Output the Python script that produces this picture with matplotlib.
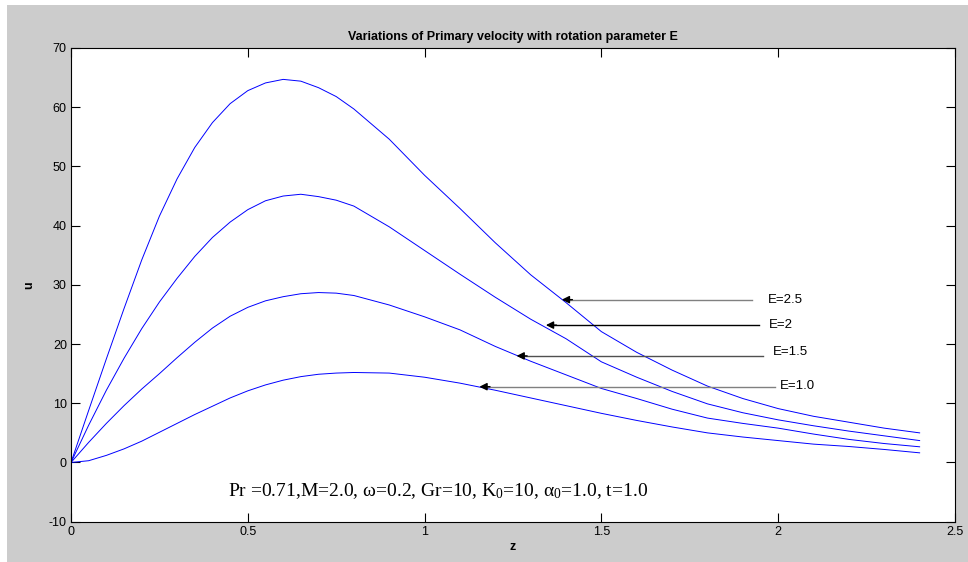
import matplotlib
matplotlib.use("Agg")
import matplotlib.pyplot as plt
from matplotlib.patches import Rectangle

plt.rcParams["font.family"] = ["Liberation Sans", "DejaVu Sans"]
plt.rcParams["mathtext.fontset"] = "custom"
plt.rcParams["mathtext.rm"] = "Liberation Serif"
plt.rcParams["mathtext.it"] = "Liberation Serif:italic"
plt.rcParams["mathtext.default"] = "regular"
plt.rcParams["axes.unicode_minus"] = False

# values (finer steps where the curves bend most)
z = [0.0, 0.05, 0.1, 0.15, 0.2, 0.25, 0.3, 0.35, 0.4, 0.45, 0.5, 0.55, 0.6, 0.65,
     0.7, 0.75, 0.8, 0.9, 1.0, 1.1, 1.2, 1.3, 1.4, 1.5, 1.6, 1.7, 1.8, 1.9, 2.0,
     2.1, 2.2, 2.3, 2.4]
u_E25 = [0.0, 8.8, 17.5, 26.0, 34.2, 41.6, 47.9, 53.2, 57.4, 60.6, 62.8, 64.1, 64.7, 64.4,
         63.3, 61.8, 59.7, 54.6, 48.5, 42.9, 37.1, 31.7, 27.0, 22.1, 18.6, 15.6, 12.9, 10.8, 9.1,
         7.8, 6.8, 5.8, 5.0]
u_E2 = [0.0, 6.3, 12.2, 17.6, 22.6, 27.1, 31.1, 34.8, 38.0, 40.6, 42.7, 44.2, 45.0, 45.3,
        44.9, 44.3, 43.3, 39.8, 35.8, 31.8, 27.9, 24.2, 20.9, 17.0, 14.4, 12.0, 9.9, 8.4, 7.2,
        6.2, 5.3, 4.5, 3.7]
u_E15 = [0.0, 3.4, 6.6, 9.6, 12.4, 15.0, 17.7, 20.3, 22.7, 24.7, 26.2, 27.3, 28.0, 28.5,
         28.7, 28.6, 28.2, 26.6, 24.6, 22.4, 19.6, 17.1, 14.8, 12.5, 10.8, 9.0, 7.5, 6.6, 5.8,
         4.8, 3.9, 3.2, 2.65]
u_E10 = [0.0, 0.3, 1.2, 2.3, 3.6, 5.1, 6.6, 8.1, 9.5, 10.9, 12.1, 13.1, 13.9, 14.5,
         14.9, 15.1, 15.2, 15.1, 14.4, 13.4, 12.2, 10.9, 9.6, 8.3, 7.1, 6.0, 5.0, 4.3, 3.7,
         3.1, 2.7, 2.2, 1.63]

labels = ["E=2.5", "E=2", "E=1.5", "E=1.0"]
arrow_tips = [(1.388, 27.5), (1.343, 23.2), (1.260, 18.0), (1.155, 12.8)]
arrow_tails_z = [1.925, 1.946, 1.957, 1.99]
label_pos = [(1.971, 27.5), (1.974, 23.2), (1.985, 18.7), (2.005, 12.9)]
arrow_colors = ["#808080", "black", "#505050", "#808080"]

fig = plt.figure(figsize=(9.68, 5.62), dpi=100, facecolor="white")
# grey matlab figure background, with a thin white strip top and left
fig.patches.append(Rectangle((7 / 968, 0), 1, (562 - 5) / 562, transform=fig.transFigure,
                             facecolor="#cccccc", edgecolor="none", zorder=-10))

ax = fig.add_axes([71 / 968, (562 - 521.7) / 562, 884 / 968, 473.7 / 562])
ax.set_facecolor("white")

for u in [u_E25, u_E2, u_E15, u_E10]:
    ax.plot(z, u, color="blue", lw=0.7)

for lab, tip, tz, pos, col in zip(labels, arrow_tips, arrow_tails_z, label_pos, arrow_colors):
    ax.plot([tip[0] + 0.02, tz], [tip[1], tip[1]], color=col, lw=1.0)
    ax.annotate("", xy=tip, xytext=(tip[0] + 0.03, tip[1]),
                arrowprops=dict(arrowstyle="-|>", color="black", lw=1.0, mutation_scale=11,
                                shrinkA=0, shrinkB=0))
    ax.text(pos[0], pos[1], lab, fontsize=9.5, ha="left", va="center")

ax.text(0.443, -5.6, r"Pr =0.71,M=2.0, ω=0.2, Gr=10, K$_0$=10, α$_0$=1.0, t=1.0",
        fontsize=14, family="Liberation Serif", ha="left", va="baseline")

ax.set_xlim(0, 2.5)
ax.set_ylim(-10, 70)
ax.set_xticks([0, 0.5, 1, 1.5, 2, 2.5])
ax.set_xticklabels(["0", "0.5", "1", "1.5", "2", "2.5"])
ax.set_yticks(range(-10, 71, 10))
ax.tick_params(direction="in", length=6.5, width=0.8, labelsize=9, pad=3,
               top=True, right=True)
for s in ax.spines.values():
    s.set_linewidth(0.8)

ax.set_title("Variations of Primary velocity with rotation parameter E",
             fontsize=9, fontweight="bold", pad=6)
ax.set_xlabel("z", fontsize=9, fontweight="bold", labelpad=2)
ax.set_ylabel("u", fontsize=9, fontweight="bold", labelpad=10)

plt.savefig("out.png", dpi=100, facecolor=fig.get_facecolor())
